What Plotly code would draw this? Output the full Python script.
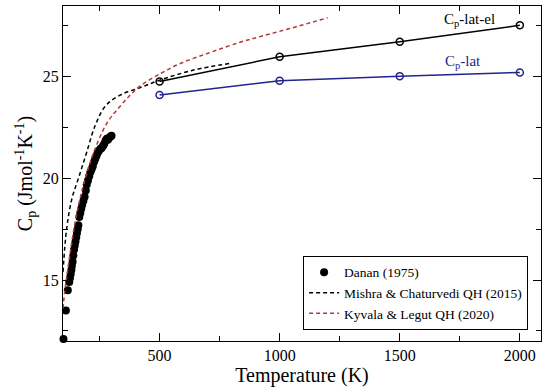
import plotly.graph_objects as go

# Danan (1975) experimental data
danan_T = [100, 110, 118, 124, 127, 130, 133, 135, 138, 141, 144, 147, 150, 153, 156, 159,
           162, 166, 170, 174, 178, 183, 188, 193, 197, 202, 207, 212, 217, 222, 227, 232,
           237, 242, 247, 253, 259, 265, 270, 275, 280, 285, 290, 295, 300]
danan_Cp = [12.1, 13.5, 14.5, 14.9, 15.1, 15.3, 15.5, 15.7, 15.9, 16.2, 16.5, 16.7, 16.9, 17.1,
            17.3, 17.5, 17.7, 18.1, 18.3, 18.5, 18.7, 18.9, 19.1, 19.4, 19.7, 19.9, 20.1, 20.3,
            20.45, 20.6, 20.8, 20.95, 21.1, 21.25, 21.35, 21.45, 21.5, 21.6, 21.7, 21.85, 21.95,
            21.9, 22.0, 22.05, 22.1]

# Mishra & Chaturvedi QH (2015)
mishra_T = [98, 113, 135, 165, 197, 232, 274, 336, 420, 503, 642, 795]
mishra_Cp = [15.4, 17.5, 19.0, 20.1, 21.3, 22.6, 23.55, 24.1, 24.47, 24.84, 25.33, 25.66]

# Kyvala & Legut QH (2020)
kyvala_T = [98, 105, 113, 125, 142, 165, 191, 225, 281, 336, 378, 420, 503, 586, 712, 836,
            920, 1042, 1200]
kyvala_Cp = [13.6, 14.4, 15.1, 16.1, 17.4, 18.8, 20.0, 21.25, 22.72, 23.55, 24.1, 24.55,
             25.15, 25.65, 26.2, 26.7, 26.98, 27.37, 27.9]

# This work
calc_T = [500, 1000, 1500, 2000]
cp_lat_el = [24.77, 25.98, 26.72, 27.53]
cp_lat = [24.1, 24.8, 25.03, 25.21]

FONT = "Liberation Serif, Times New Roman, serif"
BLUE = "#23238e"
RED = "#b03a3a"

fig = go.Figure()

fig.add_trace(go.Scatter(x=calc_T, y=cp_lat_el, mode="lines+markers", showlegend=False,
                         line=dict(color="black", width=1.5),
                         marker=dict(symbol="circle-open", size=7, color="black",
                                     line=dict(width=1.5, color="black"))))
fig.add_trace(go.Scatter(x=calc_T, y=cp_lat, mode="lines+markers", showlegend=False,
                         line=dict(color=BLUE, width=1.5),
                         marker=dict(symbol="circle-open", size=7, color=BLUE,
                                     line=dict(width=1.5, color=BLUE))))
fig.add_trace(go.Scatter(x=danan_T, y=danan_Cp, mode="markers", name="Danan (1975)",
                         marker=dict(symbol="circle", size=8, color="black"),
                         cliponaxis=False))
fig.add_trace(go.Scatter(x=mishra_T, y=mishra_Cp, mode="lines", name="Mishra & Chaturvedi QH (2015)",
                         line=dict(color="black", width=1.5, dash="4px,3px", shape="spline")))
fig.add_trace(go.Scatter(x=kyvala_T, y=kyvala_Cp, mode="lines", name="Kyvala & Legut QH (2020)",
                         line=dict(color=RED, width=1.5, dash="4px,3px", shape="spline")))

fig.add_annotation(x=1677, y=27.78, xanchor="left", yanchor="middle", showarrow=False,
                   text="C<sub>p</sub>-lat-el", font=dict(family=FONT, size=15, color="black"))
fig.add_annotation(x=1681, y=25.73, xanchor="left", yanchor="middle", showarrow=False,
                   text="C<sub>p</sub>-lat", font=dict(family=FONT, size=15, color=BLUE))

axis_common = dict(showgrid=False, zeroline=False, showline=True, linecolor="black",
                   linewidth=1.2, mirror="ticks", ticks="inside", ticklen=8, tickwidth=1,
                   tickcolor="black", tickfont=dict(family=FONT, size=16, color="black"))

fig.update_xaxes(range=[98, 2088], tickvals=[500, 1000, 1500, 2000],
                 minor=dict(tickvals=[250, 750, 1250, 1750], ticklen=5, ticks="inside",
                            tickcolor="black", tickwidth=1),
                 title=dict(text="Temperature (K)", font=dict(family=FONT, size=20, color="black"),
                            standoff=0),
                 **axis_common)
fig.update_yaxes(range=[12, 28.48], tickvals=[15, 20, 25],
                 minor=dict(tickvals=[12.5, 17.5, 22.5, 27.5], ticklen=5, ticks="inside",
                            tickcolor="black", tickwidth=1),
                 title=dict(text="C<sub>p</sub> (Jmol<sup>-1</sup>K<sup>-1</sup>)",
                            font=dict(family=FONT, size=20, color="black"), standoff=4),
                 **axis_common)

fig.update_layout(
    width=550, height=388,
    margin=dict(l=63, r=9, t=6, b=47),
    paper_bgcolor="white", plot_bgcolor="white",
    font=dict(family=FONT, color="black"),
    legend=dict(x=0.973, xanchor="right", y=0.033, yanchor="bottom",
                bgcolor="white", bordercolor="black", borderwidth=1,
                font=dict(family=FONT, size=13.5, color="black"),
                tracegroupgap=0, itemwidth=30),
)

fig.write_html("out.html", config={"displayModeBar": False},
               post_script="document.body.style.margin='0px';document.body.style.padding='0px';")
